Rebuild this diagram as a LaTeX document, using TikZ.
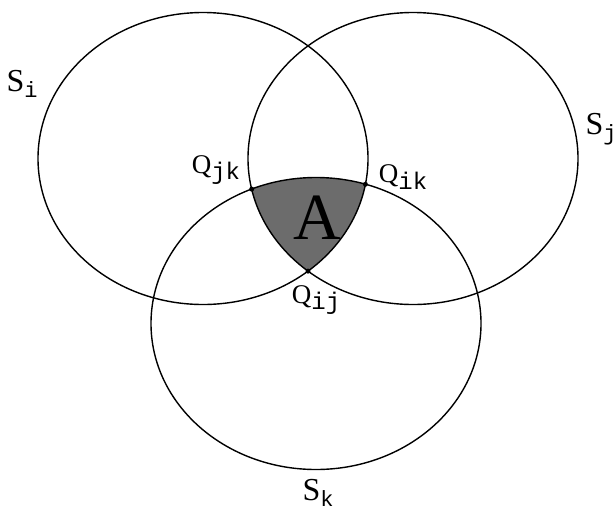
\documentclass[tikz,border=0pt]{standalone}
\usepackage{fontspec}
\setmainfont{Liberation Serif}
\newfontfamily\subfont{Liberation Mono}
\newcommand\mylab[4]{{\fontsize{#1}{#1}\selectfont #3}{\fontsize{#2}{#2}\subfont\raisebox{-0.28em}{#4}}}
\definecolor{areagray}{RGB}{108,108,108}
\tikzset{
  sphere/.style={draw=black, line width=1.4pt},
  qlab/.style={inner sep=0pt, text=black},
  qdot/.style={circle, fill=black, inner sep=0pt, minimum size=5pt}
}
\begin{document}
\begin{tikzpicture}[x=1pt, y=-1pt]
\useasboundingbox (0,0) rectangle (616,512);
\fill[white] (0,0) rectangle (616,512);
% region A
\begin{scope}
  \clip (203,158.5) ellipse [x radius=165, y radius=146];
  \clip (413,158.5) ellipse [x radius=165, y radius=146];
  \fill[areagray] (316,323.5) ellipse [x radius=165, y radius=146];
\end{scope}
% spheres
\draw[sphere] (203,158.5) ellipse [x radius=165, y radius=146];
\draw[sphere] (413,158.5) ellipse [x radius=165, y radius=146];
\draw[sphere] (316,323.5) ellipse [x radius=165, y radius=146];
% intersection points
\node[qdot] (qjk) at (251.7,189.1) {};
\node[qdot] (qik) at (365.4,184.3) {};
\node[qdot] (qij) at (308,271.1) {};
% labels
\node[qlab] (a) at (317,218) {\fontsize{66}{66}\selectfont A};
\node[qlab] (ljk) at (216,170) {\mylab{27}{24}{Q}{jk}};
\node[qlab] (lik) at (403,177) {\mylab{27}{24}{Q}{ik}};
\node[qlab] (lij) at (316,300) {\mylab{27}{24}{Q}{ij}};
\node[qlab] (si) at (22,84) {\mylab{32}{22}{S}{i}};
\node[qlab] (sj) at (601,129) {\mylab{32}{22}{S}{j}};
\node[qlab] (sk) at (318,493) {\mylab{32}{22}{S}{k}};
\end{tikzpicture}
\end{document}
